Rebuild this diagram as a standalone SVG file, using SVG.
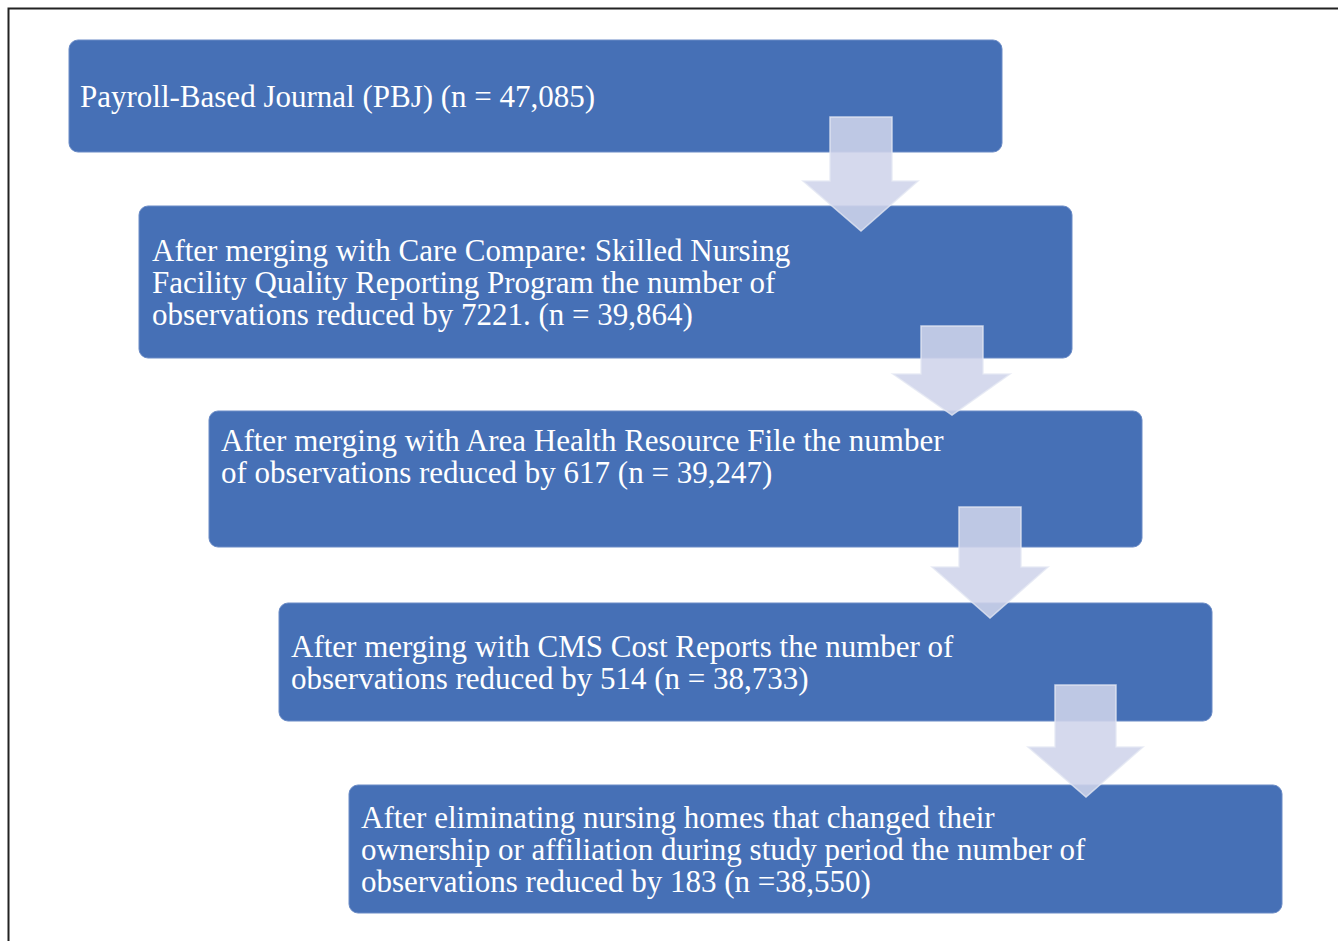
<svg xmlns="http://www.w3.org/2000/svg" width="1338" height="941" viewBox="0 0 1338 941">
<style>
.box{fill:#4670b6;stroke:#6a8bc6;stroke-width:1}
.t{font-family:"Liberation Serif","Times New Roman",serif;font-size:31px;fill:#ffffff}
.arr{fill:#cfd4ea;fill-opacity:0.88;stroke:#e4e7f3;stroke-opacity:0.8;stroke-width:1.5}
</style>
<rect width="1338" height="941" fill="#ffffff"/>
<path d="M8.5 941 V8.5 H1338" fill="none" stroke="#222" stroke-width="2"/>
<g id="n1"><rect class="box" x="69" y="40" width="933" height="112" rx="9"/><text class="t" x="80" y="107">Payroll-Based Journal (PBJ) (n = 47,085)</text></g>
<g id="n2"><rect class="box" x="139" y="206" width="933" height="152" rx="9"/><text class="t" x="152" y="261">After merging with Care Compare: Skilled Nursing</text><text class="t" x="152" y="293">Facility Quality Reporting Program the number of</text><text class="t" x="152" y="325">observations reduced by 7221. (n = 39,864)</text></g>
<g id="n3"><rect class="box" x="209" y="411" width="933" height="136" rx="9"/><text class="t" x="221" y="451">After merging with Area Health Resource File the number</text><text class="t" x="221" y="483">of observations reduced by 617 (n = 39,247)</text></g>
<g id="n4"><rect class="box" x="279" y="603" width="933" height="118" rx="9"/><text class="t" x="291" y="657">After merging with CMS Cost Reports the number of</text><text class="t" x="291" y="689">observations reduced by 514 (n = 38,733)</text></g>
<g id="n5"><rect class="box" x="349" y="785" width="933" height="128" rx="9"/><text class="t" x="361" y="828">After eliminating nursing homes that changed their</text><text class="t" x="361" y="860">ownership or affiliation during study period the number of</text><text class="t" x="361" y="892">observations reduced by 183 (n =38,550)</text></g>
<g id="connectors">
<path class="arr" d="M830 117 H892 V181 H918 L861 231 L803 181 H830 Z"/>
<path class="arr" d="M921 326 H983 V374 H1010 L952 415 L893 374 H921 Z"/>
<path class="arr" d="M959 507 H1021 V567 H1048 L990 618 L932 567 H959 Z"/>
<path class="arr" d="M1055 685 H1116 V747 H1143 L1086 797 L1028 747 H1055 Z"/>
</g>
</svg>
